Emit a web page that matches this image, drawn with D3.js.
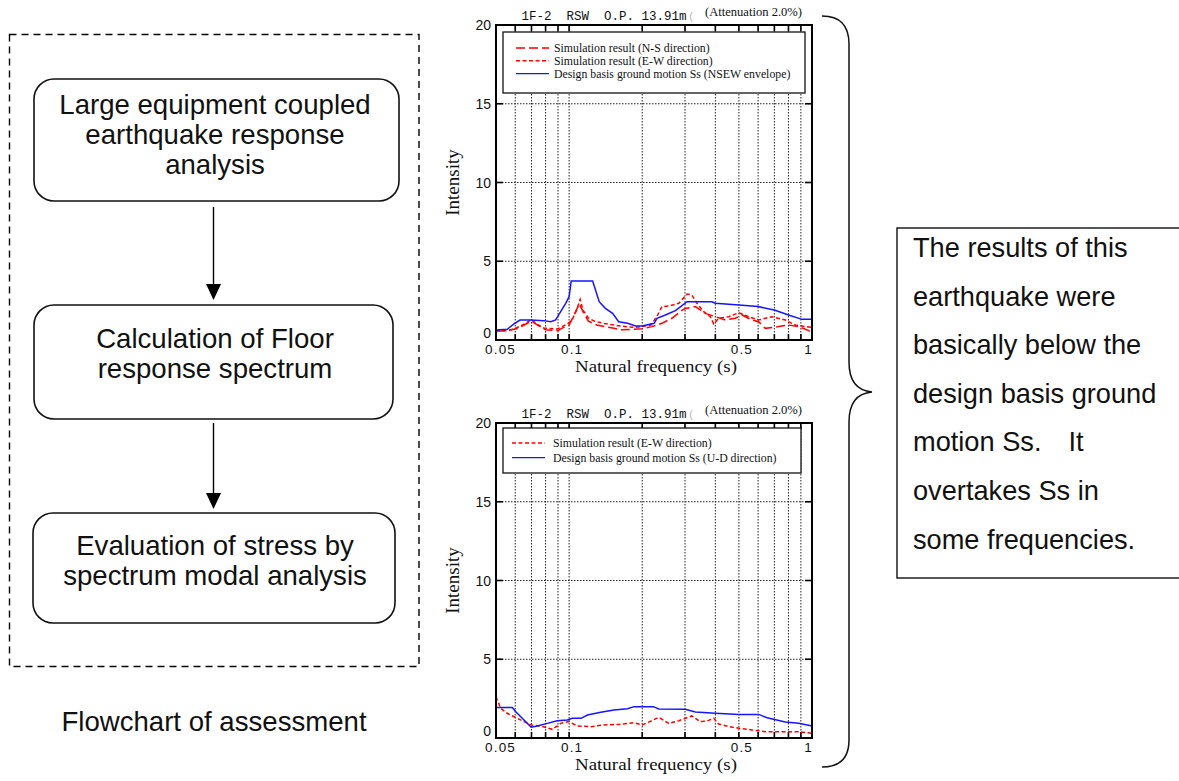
<!DOCTYPE html>
<html>
<head>
<meta charset="utf-8">
<script src="https://cdn.jsdelivr.net/npm/d3@7"></script>
<style>
  body { margin: 0; background: #fff; }
  svg { display: block; }
</style>
</head>
<body>
<svg id="fig" width="1179" height="781"></svg>
<script>
// ---- data ----
const FREQ_GRID = [0.06, 0.07, 0.08, 0.09, 0.1, 0.2, 0.3, 0.4, 0.5, 0.6, 0.7, 0.8, 0.9];
const FREQ_LABELS = [0.05, 0.1, 0.5, 1];
const INTENSITY_TICKS = [0, 5, 10, 15, 20];

// top chart: horizontal (NS / EW) response
const topNS = [
  [0.05, 0.55], [0.056, 0.6], [0.062, 0.75], [0.0698, 1.2], [0.075, 0.9], [0.08, 0.65],
  [0.09, 0.6], [0.0937, 0.75], [0.1, 0.95], [0.105, 1.6], [0.11, 2.3], [0.115, 1.7],
  [0.12, 1.2], [0.13, 0.95], [0.14, 0.85], [0.153, 0.75], [0.162, 0.65], [0.185, 0.68],
  [0.2, 0.72], [0.219, 0.85], [0.241, 1.06], [0.265, 1.38], [0.292, 1.9], [0.301, 2.0],
  [0.331, 2.12], [0.364, 1.69], [0.4, 1.48], [0.44, 1.27], [0.483, 1.38], [0.515, 1.59],
  [0.566, 1.27], [0.603, 1.16], [0.642, 0.74], [0.729, 0.85], [0.8, 0.95], [0.882, 0.85],
  [0.969, 0.6], [1.0, 0.4],
];
const topEW = [
  [0.05, 0.6], [0.055, 0.58], [0.0593, 0.7], [0.0652, 1.0], [0.0698, 1.28], [0.074, 1.0],
  [0.0788, 0.75], [0.0894, 0.7], [0.0937, 0.85], [0.1, 1.1], [0.103, 1.3], [0.108, 2.0],
  [0.111, 2.58], [0.114, 1.9], [0.12, 1.4], [0.127, 1.2], [0.139, 1.05], [0.153, 0.95],
  [0.17, 0.85], [0.185, 0.8], [0.2, 0.85], [0.217, 0.95], [0.23, 1.5], [0.241, 2.12],
  [0.257, 2.16], [0.283, 2.33], [0.306, 2.92], [0.32, 2.86], [0.336, 2.33], [0.358, 1.8],
  [0.381, 1.48], [0.394, 1.02], [0.413, 1.38], [0.454, 1.48], [0.5, 1.73], [0.549, 1.48],
  [0.603, 1.27], [0.684, 1.48], [0.776, 1.27], [0.853, 0.95], [0.938, 0.85], [1.0, 0.8],
];
const topSs = [
  [0.05, 0.63], [0.0556, 0.68], [0.0593, 1.02], [0.0628, 1.27], [0.0695, 1.27], [0.0788, 1.23],
  [0.084, 1.16], [0.088, 1.27], [0.0923, 1.8], [0.0968, 2.33], [0.1, 2.75], [0.102, 3.75],
  [0.125, 3.75], [0.133, 2.43], [0.141, 2.01], [0.151, 1.69], [0.16, 1.16], [0.174, 1.06],
  [0.188, 0.89], [0.2, 0.89], [0.224, 1.06], [0.23, 1.38], [0.249, 1.59], [0.274, 1.86],
  [0.306, 2.43], [0.387, 2.43], [0.4, 2.33], [0.5, 2.22], [0.6, 2.12], [0.7, 1.9],
  [0.8, 1.59], [0.91, 1.31], [1.0, 1.31],
];

// bottom chart: vertical (UD) response
const botEW = [
  [0.05, 2.62], [0.0523, 1.89], [0.0556, 1.57], [0.0593, 1.35], [0.0652, 1.04], [0.0698, 0.83],
  [0.0764, 0.76], [0.0853, 0.55], [0.0923, 0.93], [0.1, 1.04], [0.108, 0.76], [0.123, 0.72],
  [0.139, 0.83], [0.162, 0.87], [0.185, 0.97], [0.2, 0.83], [0.222, 1.14], [0.234, 1.31],
  [0.257, 0.93], [0.283, 1.1], [0.32, 1.4], [0.347, 1.04], [0.37, 1.08], [0.394, 1.25],
  [0.413, 0.89], [0.454, 0.72], [0.5, 0.62], [0.566, 0.51], [0.642, 0.4], [0.882, 0.4],
  [1.0, 0.3],
];
const botSs = [
  [0.05, 1.93], [0.0584, 1.93], [0.0603, 1.67], [0.0652, 1.14], [0.0698, 0.68], [0.074, 0.76],
  [0.0813, 0.93], [0.0894, 1.1], [0.0983, 1.14], [0.103, 1.25], [0.112, 1.25], [0.119, 1.46],
  [0.135, 1.63], [0.153, 1.78], [0.174, 1.86], [0.185, 1.99], [0.222, 1.99], [0.234, 1.84],
  [0.301, 1.82], [0.331, 1.65], [0.4, 1.57], [0.5, 1.5], [0.603, 1.5], [0.653, 1.29],
  [0.776, 1.02], [0.882, 0.93], [1.0, 0.76],
];

const topLegend = [
  "Simulation result (N-S direction)",
  "Simulation result (E-W direction)",
  "Design basis ground motion Ss (NSEW envelope)",
];
const botLegend = [
  "Simulation result (E-W direction)",
  "Design basis ground motion Ss (U-D direction)",
];

const flowSteps = [
  ["Large equipment coupled", "earthquake response", "analysis"],
  ["Calculation of Floor", "response spectrum"],
  ["Evaluation of stress by", "spectrum modal analysis"],
];
const noteLines = [
  "The results of this",
  "earthquake were",
  "basically below the",
  "design basis ground",
  "motion Ss.\u3000It",
  "overtakes Ss in",
  "some frequencies.",
];

const STYLES = {
  ns: { color: "#ff0000", dash: "9,4" },
  ew: { color: "#ff0000", dash: "4,2.5" },
  ss: { color: "#1515ff", dash: null },
};

const SANS = "'Liberation Sans', Arial, sans-serif";
const SERIF = "'Liberation Serif', 'Times New Roman', serif";
const MONO = "'Liberation Mono', 'DejaVu Sans Mono', monospace";

const svg = d3.select("#fig");

// ---- flowchart ----
function drawFlowchart() {
  const g = svg.append("g");
  g.append("rect")
    .attr("x", 9.5).attr("y", 34.5).attr("width", 409.5).attr("height", 632)
    .attr("fill", "none").attr("stroke", "#000").attr("stroke-width", 1.4)
    .attr("stroke-dasharray", "7,5");

  const boxes = [
    { x: 34, y: 79, w: 365, h: 122, base: 114 },
    { x: 34, y: 305, w: 359, h: 114, base: 348 },
    { x: 33, y: 513, w: 362, h: 110, base: 555 },
  ];
  boxes.forEach((b, i) => {
    g.append("rect")
      .attr("x", b.x).attr("y", b.y).attr("width", b.w).attr("height", b.h)
      .attr("rx", 20).attr("ry", 20)
      .attr("fill", "#fff").attr("stroke", "#111").attr("stroke-width", 1.6);
    g.append("text")
      .attr("font-family", SANS).attr("font-size", 27.6).attr("fill", "#111")
      .attr("text-anchor", "middle")
      .selectAll("tspan").data(flowSteps[i]).join("tspan")
      .attr("x", 215).attr("y", (d, j) => b.base + j * 30)
      .text((d) => d);
  });

  const arrows = [[207, 300], [423, 509]];
  arrows.forEach(([y0, y1]) => {
    g.append("line")
      .attr("x1", 213.5).attr("x2", 213.5).attr("y1", y0).attr("y2", y1 - 14)
      .attr("stroke", "#000").attr("stroke-width", 1.4);
    g.append("path")
      .attr("d", `M206,${y1 - 16} L221,${y1 - 16} L213.5,${y1} Z`)
      .attr("fill", "#000");
  });

  g.append("text")
    .attr("x", 214).attr("y", 731)
    .attr("font-family", SANS).attr("font-size", 27.6).attr("fill", "#111")
    .attr("text-anchor", "middle")
    .text("Flowchart of assessment");
}

// ---- spectrum chart ----
function drawSpectrum(cfg) {
  const x = d3.scaleLog().domain([0.05, 1]).range([496, 812]);
  const y = d3.scaleLinear().domain([0, 20]).range([cfg.bottom, cfg.top]);
  const g = svg.append("g");
  const [x0, x1] = x.range();

  // grid
  g.append("g").selectAll("line").data(FREQ_GRID).join("line")
    .attr("x1", (d) => x(d)).attr("x2", (d) => x(d))
    .attr("y1", cfg.top).attr("y2", cfg.bottom)
    .attr("stroke", "#222").attr("stroke-width", 1).attr("stroke-dasharray", "1.5,1.5");
  g.append("g").selectAll("line").data(INTENSITY_TICKS.slice(1, -1)).join("line")
    .attr("x1", x0).attr("x2", x1)
    .attr("y1", (d) => y(d)).attr("y2", (d) => y(d))
    .attr("stroke", "#222").attr("stroke-width", 1).attr("stroke-dasharray", "1.5,1.5");

  // inward ticks
  const tickG = g.append("g").attr("stroke", "#000").attr("stroke-width", 1.6);
  FREQ_GRID.forEach((d) => {
    tickG.append("line").attr("x1", x(d)).attr("x2", x(d)).attr("y1", cfg.top).attr("y2", cfg.top + 6);
    tickG.append("line").attr("x1", x(d)).attr("x2", x(d)).attr("y1", cfg.bottom).attr("y2", cfg.bottom - 6);
  });
  INTENSITY_TICKS.slice(1, -1).forEach((d) => {
    tickG.append("line").attr("x1", x0).attr("x2", x0 + 7).attr("y1", y(d)).attr("y2", y(d));
    tickG.append("line").attr("x1", x1).attr("x2", x1 - 7).attr("y1", y(d)).attr("y2", y(d));
  });

  // legend box (white, hides grid)
  const lg = g.append("g");
  lg.append("rect")
    .attr("x", cfg.legend.x).attr("y", cfg.legend.y)
    .attr("width", cfg.legend.w).attr("height", cfg.legend.h)
    .attr("fill", "#fff").attr("stroke", "#111").attr("stroke-width", 1.3);
  cfg.series.forEach((s, i) => {
    const ry = cfg.legend.rowY + i * cfg.legend.rowGap;
    lg.append("line")
      .attr("x1", cfg.legend.lineX).attr("x2", cfg.legend.lineX + 33)
      .attr("y1", ry).attr("y2", ry)
      .attr("stroke", STYLES[s.kind].color).attr("stroke-width", 1.4)
      .attr("stroke-dasharray", STYLES[s.kind].dash);
    lg.append("text")
      .attr("x", cfg.legend.textX).attr("y", ry + 4)
      .attr("font-family", SERIF).attr("font-size", 11.8).attr("fill", "#111")
      .text(s.label);
  });

  // series
  const line = d3.line().x((d) => x(d[0])).y((d) => y(d[1]));
  cfg.series.forEach((s) => {
    g.append("path")
      .datum(s.values)
      .attr("d", line)
      .attr("fill", "none")
      .attr("stroke", STYLES[s.kind].color)
      .attr("stroke-width", 1.5)
      .attr("stroke-dasharray", STYLES[s.kind].dash);
  });

  // frame
  g.append("rect")
    .attr("x", x0).attr("y", cfg.top).attr("width", x1 - x0).attr("height", cfg.bottom - cfg.top)
    .attr("fill", "none").attr("stroke", "#000").attr("stroke-width", 2);

  // y labels ("0" lifted a little so it clears the 0.05 label under it)
  g.append("g").selectAll("text").data(INTENSITY_TICKS).join("text")
    .attr("x", 491).attr("y", (d) => y(d) + (d === 0 ? -2 : 5))
    .attr("text-anchor", "end")
    .attr("font-family", SANS).attr("font-size", 14).attr("fill", "#111")
    .text((d) => d);

  // x labels
  g.append("g").selectAll("text").data(FREQ_LABELS).join("text")
    .attr("x", (d, i) => (i === 0 ? x(d) - 11 : x(d) + (i === FREQ_LABELS.length - 1 ? 1 : 3)))
    .attr("y", cfg.bottom + 14)
    .attr("text-anchor", (d, i) => (i === 0 ? "start" : i === FREQ_LABELS.length - 1 ? "end" : "middle"))
    .attr("font-family", SANS).attr("font-size", 13.5).attr("letter-spacing", 1.2).attr("fill", "#111")
    .text((d) => d);

  // axis titles
  g.append("text")
    .attr("x", 656).attr("y", cfg.bottom + 32)
    .attr("text-anchor", "middle")
    .attr("font-family", SERIF).attr("font-size", 16).attr("fill", "#111")
    .attr("textLength", 162).attr("lengthAdjust", "spacingAndGlyphs")
    .text("Natural frequency (s)");
  g.append("text")
    .attr("transform", `translate(459,${(cfg.top + cfg.bottom) / 2}) rotate(-90)`)
    .attr("text-anchor", "middle")
    .attr("font-family", SERIF).attr("font-size", 19).attr("fill", "#111")
    .text("Intensity");

  // heading
  g.append("text")
    .attr("x", 521.5).attr("y", cfg.top - 5.5)
    .attr("font-family", MONO).attr("font-size", 12.5).attr("fill", "#111")
    .style("white-space", "pre")
    .text("1F-2  RSW  O.P. 13.91m");
  g.append("text")
    .attr("x", 688).attr("y", cfg.top - 5.5)
    .attr("font-family", MONO).attr("font-size", 11).attr("fill", "#bbb")
    .text("(");
  g.append("text")
    .attr("x", 705).attr("y", cfg.top - 9)
    .attr("font-family", SERIF).attr("font-size", 12).attr("fill", "#111")
    .attr("textLength", 97).attr("lengthAdjust", "spacingAndGlyphs")
    .text("(Attenuation 2.0%)");
}

// ---- note + brace ----
function drawNote() {
  const g = svg.append("g");
  g.append("path")
    .attr("d", "M822,16 Q849,16 849,44 L849,362 Q849,390 872,392 Q849,394 849,422 L849,740 Q849,767 822,767")
    .attr("fill", "none").attr("stroke", "#111").attr("stroke-width", 1.5);
  g.append("rect")
    .attr("x", 897).attr("y", 228).attr("width", 285).attr("height", 350)
    .attr("fill", "#fff").attr("stroke", "#111").attr("stroke-width", 1.4);
  g.append("text")
    .attr("font-family", SANS).attr("font-size", 27.2).attr("fill", "#111")
    .style("white-space", "pre")
    .selectAll("tspan").data(noteLines).join("tspan")
    .attr("x", 913).attr("y", (d, i) => 257 + i * 48.6)
    .text((d) => d);
}

drawFlowchart();
drawSpectrum({
  top: 25, bottom: 340,
  legend: { x: 503, y: 32, w: 302, h: 61, rowY: 48, rowGap: 12.8, lineX: 516, textX: 554 },
  series: [
    { kind: "ns", label: topLegend[0], values: topNS },
    { kind: "ew", label: topLegend[1], values: topEW },
    { kind: "ss", label: topLegend[2], values: topSs },
  ],
});
drawSpectrum({
  top: 423, bottom: 738,
  legend: { x: 503, y: 428, w: 298, h: 45, rowY: 443, rowGap: 14.6, lineX: 512, textX: 553 },
  series: [
    { kind: "ew", label: botLegend[0], values: botEW },
    { kind: "ss", label: botLegend[1], values: botSs },
  ],
});
drawNote();
</script>
</body>
</html>
